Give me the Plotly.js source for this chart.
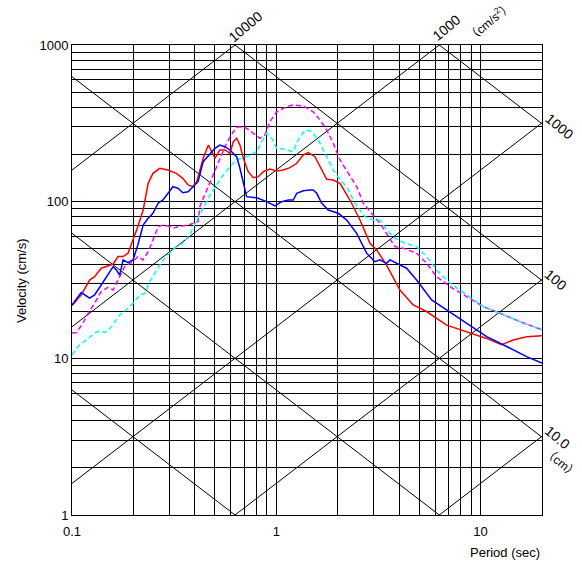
<!DOCTYPE html>
<html>
<head>
<meta charset="utf-8">
<script src="https://cdn.plot.ly/plotly-3.0.1.min.js"></script>
<style>html,body{margin:0;padding:0;background:#fff;}#chart{width:582px;height:568px;}</style>
</head>
<body>
<div id="chart"></div>
<script>
// ---- data ----
const redT = [0.1,0.111,0.122,0.129,0.139,0.150,0.159,0.168,0.178,0.188,0.199,0.210,0.223,0.236,0.249,0.269,0.295,0.324,0.349,0.370,0.391,0.408,0.439,0.465,0.483,0.501,0.530,0.561,0.593,0.616,0.640,0.664,0.690,0.729,0.772,0.817,0.864,0.931,1.005,1.082,1.167,1.259,1.356,1.435,1.546,1.637,1.766,1.901,2.051,2.296,2.570,2.877,3.101,3.467,4.032,4.685,5.445,6.823,8.545,10.72,12.68,14.45,16.81,20];
const redV = [21.7,25.4,31.6,33.2,37.6,38.9,40.0,44.6,44.6,46.9,56.9,69.2,88.5,130.9,151.7,163.3,159.3,151.7,141.0,127.8,124.6,134.1,189.2,230,208.5,189.2,213.8,213.8,203.6,241.4,253.9,230,189.2,155.4,142.3,144.4,155.4,161.7,157.1,159.3,164.8,175.8,198.6,205.4,193.7,169,139.0,137.5,131,102.5,76.4,54.3,49.2,39.4,27.3,21.9,19.9,16.3,14.8,13.4,12.2,13.1,13.75,13.96];

const blueT = [0.1,0.111,0.122,0.129,0.139,0.150,0.159,0.165,0.171,0.178,0.188,0.199,0.210,0.223,0.236,0.249,0.264,0.279,0.295,0.312,0.330,0.349,0.370,0.391,0.414,0.439,0.474,0.501,0.530,0.561,0.593,0.640,0.664,0.690,0.716,0.802,0.898,0.985,1.062,1.146,1.211,1.259,1.356,1.462,1.517,1.578,1.667,1.797,2.012,2.212,2.475,2.770,3.041,3.218,3.467,3.603,3.882,4.345,4.866,5.763,6.823,8.545,10.72,13.43,16.81,20];
const blueV = [21.9,26.3,24.2,25.4,29.4,34.0,38.5,36.6,34.0,42.5,40.8,42.5,52.9,71.0,78.3,84.3,97.7,102.5,113.1,124.6,121.8,114.1,115.8,124.6,134.1,180,203.6,219.2,230,224.4,213.8,193.7,163.3,134.1,107.6,106.0,100,93.9,100,102.5,102.5,113.1,117.5,118.8,118.8,113.1,98,88.5,84.3,76.4,62.8,46.9,41.4,42.5,40.4,42.5,40.4,37.6,31.6,23.6,20.4,16.75,13.75,11.9,10.25,9.34];

const magT = [0.1,0.105,0.113,0.120,0.129,0.139,0.150,0.159,0.168,0.181,0.199,0.210,0.223,0.236,0.249,0.264,0.279,0.295,0.312,0.330,0.370,0.414,0.423,0.456,0.492,0.530,0.571,0.616,0.652,0.716,0.772,0.832,0.880,0.931,1.005,1.124,1.211,1.356,1.517,1.637,1.766,1.901,2.051,2.212,2.475,2.667,2.877,3.218,3.467,3.811,4.184,4.866,5.445,6.096,7.080,8.545,10.31,12.45,15.6,20];
const magV = [14.5,14.6,16.75,19.4,22.5,26.7,28.4,27.3,31.6,38.5,41.4,44.6,42.5,48.0,56.9,69.2,71.0,70.0,67.6,69.2,71.0,74.5,93.5,118,148,184,236,280,301,294,273,254,266,324,375,404,414,408,375,332,287,236,184.5,159,125,97.7,86.3,72.8,62.8,51.6,50.4,46.9,40.4,33.2,28.7,24.7,21.4,19.4,17.15,15.2];

const cyanT = [0.1,0.107,0.120,0.129,0.137,0.145,0.156,0.171,0.184,0.199,0.215,0.227,0.240,0.259,0.279,0.301,0.324,0.349,0.377,0.408,0.439,0.474,0.511,0.550,0.593,0.640,0.716,0.802,0.848,0.898,0.950,1.005,1.042,1.211,1.282,1.381,1.490,1.606,1.730,1.901,2.051,2.212,2.427,2.716,2.985,3.218,3.467,3.811,4.266,4.866,5.445,6.096,7.080,8.545,10.31,12.45,15.6,20];
const cyanV = [10.5,11.9,13.4,14.5,15.0,14.6,15.9,18.9,20.4,22.5,25.4,26.0,30.9,36.6,42.5,47.2,51.6,54.3,61.3,76.4,90.8,110.3,127.8,148,167,184.5,194,208.5,241,273,254,219,219,208.5,248,287,280,248,204,159,137.5,124.6,97.7,80.2,76.4,76.4,65.9,58.4,54.3,51.6,44.6,36.6,30.2,25.4,21.4,19.4,17.15,15.2];

// tripartite reference lines
const accelLevels = [1, 10, 100, 1000, 10000];      // cm/s^2
const dispLevels = [0.1, 1, 10, 100, 1000];         // cm
const periodRange = [0.1, 20];

// grid / tick labels
const xGrid = [0.1,0.2,0.3,0.4,0.5,0.6,0.7,0.8,0.9,1,2,3,4,5,6,7,8,9,10,20];
const xLabels = {0.1:'0.1', 1:'1', 10:'10'};
const yGrid = [1,2,3,4,5,6,7,8,9,10,20,30,40,50,60,70,80,90,100,200,300,400,500,600,700,800,900,1000];
const yLabels = {1:'1', 10:'10', 100:'100', 1000:'1000'};

const FONT = '"Liberation Sans", Arial, "Noto Sans CJK JP", sans-serif';

const traces = [];
accelLevels.forEach(A => {
  traces.push({x: periodRange, y: periodRange.map(T => A * T / (2 * Math.PI)),
    mode: 'lines', line: {color: '#000', width: 1}, hoverinfo: 'skip'});
});
dispLevels.forEach(D => {
  traces.push({x: periodRange, y: periodRange.map(T => 2 * Math.PI * D / T),
    mode: 'lines', line: {color: '#000', width: 1}, hoverinfo: 'skip'});
});
traces.push({x: magT, y: magV, mode: 'lines', line: {color: '#ff00ff', width: 1.5, dash: '5px,3px'}});
traces.push({x: cyanT, y: cyanV, mode: 'lines', line: {color: '#00ffff', width: 1.5, dash: '5px,3px'}});
traces.push({x: redT, y: redV, mode: 'lines', line: {color: '#ff0000', width: 1.5}});
traces.push({x: blueT, y: blueV, mode: 'lines', line: {color: '#0000ff', width: 1.5}});

const L = 72, R = 542, T0 = 45, B = 515;
const px = v => (v - L) / (R - L);
const py = v => (B - v) / (B - T0);
function ann(text, x, y, angle, size) {
  return {text: text, xref: 'paper', yref: 'paper', x: px(x), y: py(y),
    showarrow: false, textangle: angle, font: {family: FONT, size: size || 14, color: '#000'},
    xanchor: 'center', yanchor: 'middle'};
}

const layout = {
  width: 582, height: 568,
  margin: {l: L, r: 582 - R, t: T0, b: 568 - B},
  paper_bgcolor: '#fff', plot_bgcolor: '#fff',
  showlegend: false,
  font: {family: FONT, size: 13, color: '#000'},
  xaxis: {type: 'log', range: [Math.log10(periodRange[0]), Math.log10(periodRange[1])],
    tickvals: xGrid, ticktext: xGrid.map(v => xLabels[v] || ''), ticks: '',
    ticklabelstandoff: 4,
    showgrid: true, gridcolor: '#000', gridwidth: 1, zeroline: false,
    showline: true, linecolor: '#000', linewidth: 1, mirror: true,
    tickfont: {family: FONT, size: 13}},
  yaxis: {type: 'log', range: [0, 3],
    tickvals: yGrid, ticktext: yGrid.map(v => yLabels[v] || ''), ticks: '',
    showgrid: true, gridcolor: '#000', gridwidth: 1, zeroline: false,
    showline: true, linecolor: '#000', linewidth: 1, mirror: true,
    tickfont: {family: FONT, size: 13}},
  annotations: [
    ann('10000', 245, 27, -40),
    ann('1000', 446, 28, -40),
    ann('（cm/s<sup>2</sup>）', 489, 21, -40, 12),
    ann('1000', 559, 126, 40),
    ann('100', 556, 280, 40),
    ann('10.0', 557, 437, 40),
    ann('（cm）', 561, 463, 40, 12),
    ann('Velocity (cm/s)', 21, 281, -90, 13),
    ann('Period (sec)', 505, 552, 0, 13)
  ]
};

Plotly.newPlot('chart', traces, layout, {staticPlot: true, displayModeBar: false});
</script>
</body>
</html>
